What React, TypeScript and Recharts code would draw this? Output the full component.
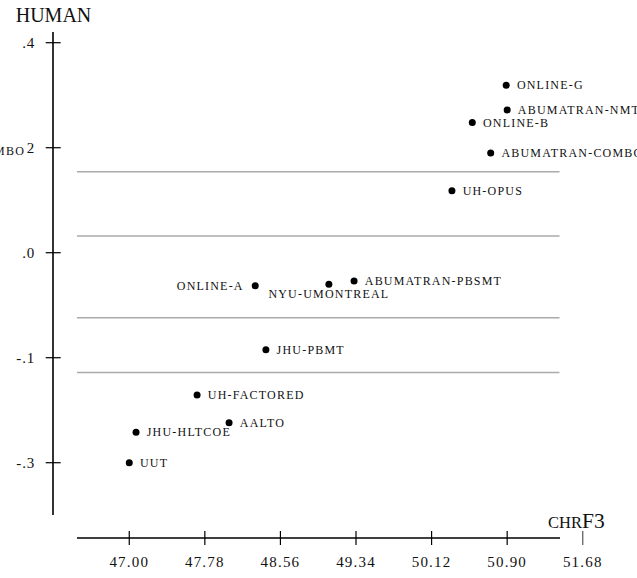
import { ReferenceLine, Scatter, ScatterChart, XAxis, YAxis } from "recharts";

const systems = [
  "ONLINE-G",
  "ABUMATRAN-NMT",
  "ONLINE-B",
  "ABUMATRAN-COMBO",
  "UH-OPUS",
  "ABUMATRAN-PBSMT",
  "NYU-UMONTREAL",
  "ONLINE-A",
  "JHU-PBMT",
  "UH-FACTORED",
  "AALTO",
  "JHU-HLTCOE",
  "UUT",
];
const chrf3 = [50.89, 50.9, 50.54, 50.73, 50.33, 49.32, 49.06, 48.3, 48.41, 47.7, 48.03, 47.07, 47.0];
const human = [0.319, 0.272, 0.248, 0.19, 0.118, -0.054, -0.06, -0.063, -0.185, -0.271, -0.324, -0.342, -0.4];

// boundaries between significance clusters
const clusterCuts = [0.154, 0.032, -0.124, -0.228];

const xTicks = [47.0, 47.78, 48.56, 49.34, 50.12, 50.9, 51.68];
const yTicks = [0.4, 0.2, 0, -0.2, -0.4];
const yTickLabels = [".4", "2", ".0", "-.1", "-.3"];

const points = systems.map((name, i) => ({ name, chrf3: chrf3[i], human: human[i] }));

const serif = '"Liberation Serif", "DejaVu Serif", serif';
const labelsLeft = new Set(["ONLINE-A"]);
const labelsBelow = new Set(["NYU-UMONTREAL"]);

function SystemDot(props: any) {
  const { cx, cy, payload } = props;
  const name: string = payload.name;
  const common = { fontFamily: serif, fontSize: 12, letterSpacing: 1.2, fill: "#111" };
  let label;
  if (labelsLeft.has(name)) {
    label = <text x={cx - 11.5} y={cy + 4} textAnchor="end" {...common}>{name}</text>;
  } else if (labelsBelow.has(name)) {
    label = <text x={cx} y={cy + 14} textAnchor="middle" {...common}>{name}</text>;
  } else {
    label = <text x={cx + 10.7} y={cy + 4} {...common}>{name}</text>;
  }
  return (
    <g>
      <circle cx={cx} cy={cy} r={3.5} fill="#000" />
      {label}
    </g>
  );
}

function HumanTick({ x, y, payload }: any) {
  const idx = yTicks.indexOf(payload.value);
  return (
    <g>
      <line x1={x - 7.3} x2={x + 7.7} y1={y} y2={y} stroke="#000" strokeWidth={1.2} />
      {idx === 1 && (
        <text x={25} y={y + 7.3} textAnchor="end" fontFamily={serif} fontSize={12} letterSpacing={1.2} fill="#111">
          ABUMATRAN-COMBO
        </text>
      )}
      <text x={x - 18} y={y + 5.3} textAnchor="end" fontFamily={serif} fontSize={15} letterSpacing={0.8} fill="#111">
        {yTickLabels[idx]}
      </text>
    </g>
  );
}

function ChrfTick({ x, y, payload }: any) {
  const last = payload.value === xTicks[xTicks.length - 1];
  return (
    <g>
      <line x1={x} x2={x} y1={y - 7} y2={y + 7} stroke={last ? "#555" : "#000"} strokeWidth={1.2} />
      <text x={x} y={y + 29} textAnchor="middle" fontFamily={serif} fontSize={15} letterSpacing={1.2} fill="#111">
        {payload.value.toFixed(2)}
      </text>
    </g>
  );
}

export default function App() {
  return (
    <div style={{ position: "absolute", left: 0, top: 0, width: 637, height: 578, background: "#fff" }}>
      <ScatterChart width={637} height={578} margin={{ top: 32, right: 37, bottom: 0, left: 0 }}>
        <XAxis
          type="number"
          dataKey="chrf3"
          domain={[46.213, 51.858]}
          ticks={xTicks}
          interval={0}
          tickSize={0}
          tickMargin={0}
          height={40}
          axisLine={{ stroke: "#000", strokeWidth: 1.6, strokeDasharray: "0 24 483 200" }}
          tickLine={false}
          tick={<ChrfTick />}
        />
        <YAxis
          type="number"
          dataKey="human"
          domain={[-0.5434, 0.4204]}
          ticks={yTicks}
          interval={0}
          tickSize={0}
          tickMargin={0}
          width={53}
          axisLine={{ stroke: "#000", strokeWidth: 1.6, strokeDasharray: "483 200" }}
          tickLine={false}
          tick={<HumanTick />}
        />
        {clusterCuts.map((v) => (
          <ReferenceLine
            key={v}
            segment={[
              { x: 46.46, y: v },
              { x: 51.44, y: v },
            ]}
            stroke="#aaa"
            strokeWidth={1.5}
          />
        ))}
        <Scatter data={points} shape={<SystemDot />} isAnimationActive={false} />
        <text x={53.5} y={22.3} textAnchor="middle" fontFamily={serif} fontSize={20} fill="#111">
          HUMAN
        </text>
        <text x={548} y={527.7} fontFamily={serif} fill="#111">
          <tspan fontSize={16.5}>CHR</tspan>
          <tspan fontSize={21.5}>F3</tspan>
        </text>
      </ScatterChart>
    </div>
  );
}
